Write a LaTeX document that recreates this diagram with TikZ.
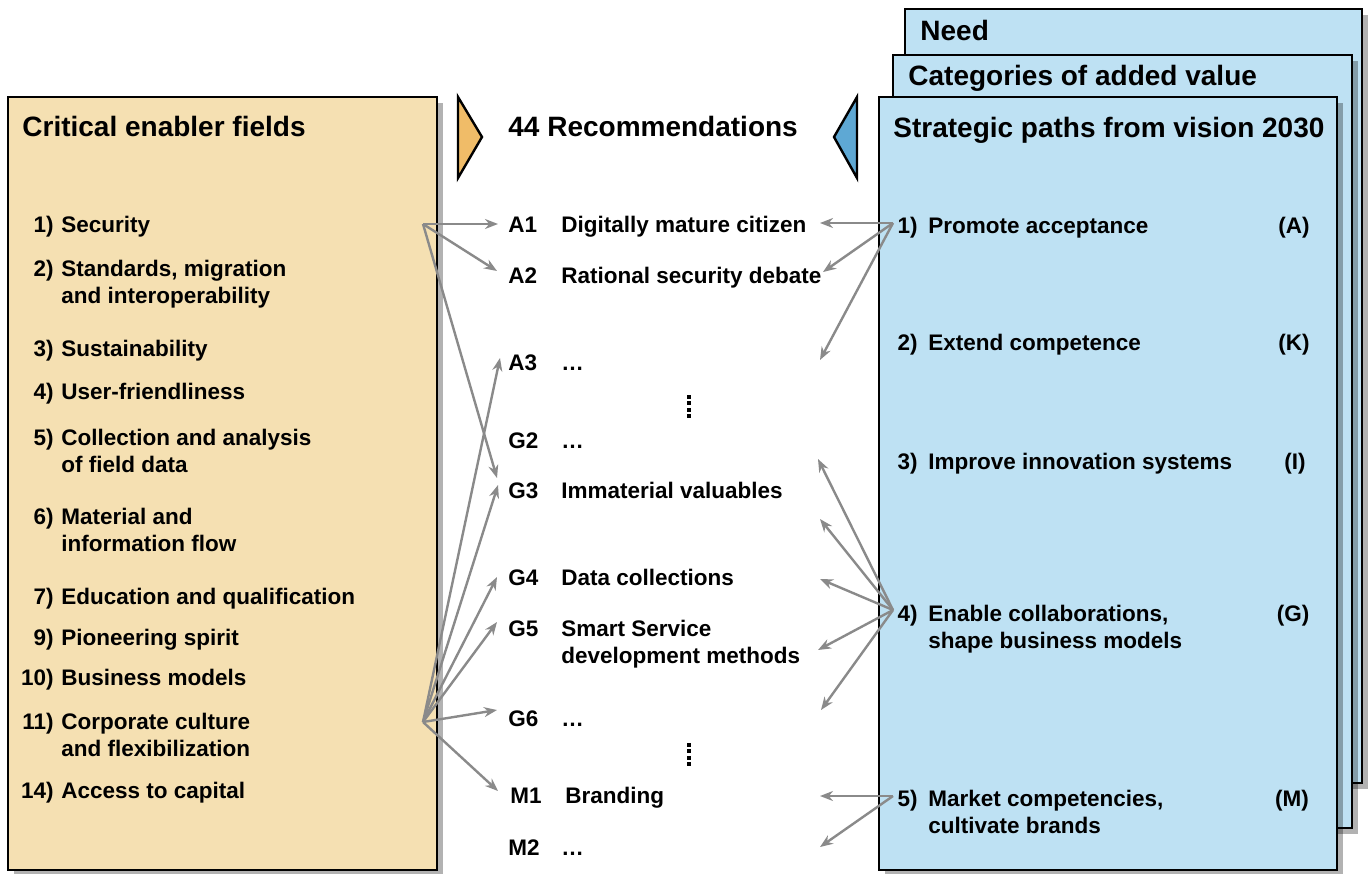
\documentclass[tikz,border=0pt]{standalone}
\usepackage{fontspec}
\setmainfont{Liberation Sans}
\usetikzlibrary{arrows.meta}
\definecolor{boxorange}{HTML}{F5E0B2}
\definecolor{boxblue}{HTML}{BEE1F3}
\definecolor{triorange}{HTML}{F0BC68}
\definecolor{triblue}{HTML}{5EA8D4}
\definecolor{arrowgray}{HTML}{8A8A8A}
\begin{document}
\begin{tikzpicture}[x=0.5pt,y=-0.5pt,
  hdr/.style={font=\fontsize{14}{16.8}\selectfont\bfseries, inner sep=0pt, anchor=base west},
  itm/.style={font=\fontsize{11.25}{13.5}\selectfont\bfseries, inner sep=0pt, anchor=base west},
  itmtwo/.style={itm, anchor=north west, align=left},
  num/.style={itm, anchor=base east},
  tag/.style={itm, anchor=base},
  boxframe/.style={draw=black, line width=1.2pt},
  shadowbox/.style={fill=black, opacity=0.3},
  conn/.style={draw=arrowgray, line width=1.2pt, -{Stealth[length=6.5pt,width=5pt]}},
  vdots/.style={line width=2pt, dash pattern=on 2pt off 1.2pt}
]
\useasboundingbox (0,0) rectangle (1370,873);

% ---------- left box ----------
\fill[shadowbox] (14,103) rectangle (443,876);
\draw[boxframe, fill=boxorange] (8,97) rectangle (437,870);
\node[hdr] (lhdr) at (22,136) {Critical enabler fields};

\node[num] (n1) at (54,232) {1)};
\node[itm] (l1) at (61,232) {Security};
\node[num] (n2) at (54,276) {2)};
\node[itmtwo] (l2) at (61,259.5) {Standards, migration\\and interoperability};
\node[num] (n3) at (54,356) {3)};
\node[itm] (l3) at (61,356) {Sustainability};
\node[num] (n4) at (54,399) {4)};
\node[itm] (l4) at (61,399) {User-friendliness};
\node[num] (n5) at (54,445) {5)};
\node[itmtwo] (l5) at (61,428.5) {Collection and analysis\\of field data};
\node[num] (n6) at (54,524) {6)};
\node[itmtwo] (l6) at (61,507.5) {Material and\\information flow};
\node[num] (n7) at (54,604) {7)};
\node[itm] (l7) at (61,604) {Education and qualification};
\node[num] (n9) at (54,645) {9)};
\node[itm] (l9) at (61,645) {Pioneering spirit};
\node[num] (n10) at (54,685) {10)};
\node[itm] (l10) at (61,685) {Business models};
\node[num] (n11) at (54,729) {11)};
\node[itmtwo] (l11) at (61,712.5) {Corporate culture\\and flexibilization};
\node[num] (n14) at (54,798) {14)};
\node[itm] (l14) at (61,798) {Access to capital};

% ---------- right stacked boxes ----------
\fill[shadowbox] (911,15) rectangle (1368,789);
\draw[boxframe, fill=boxblue] (905,9) rectangle (1362,783);
\node[hdr] (needhdr) at (920,40) {Need};
\fill[shadowbox] (899,61) rectangle (1358,834);
\draw[boxframe, fill=boxblue] (893,55) rectangle (1352,828);
\node[hdr] (cathdr) at (908,85) {Categories of added value};
\fill[shadowbox] (885,103) rectangle (1343,876);
\draw[boxframe, fill=boxblue] (879,97) rectangle (1337,870);
\node[hdr] (rhdr) at (893,137) {Strategic paths from vision 2030};

\node[num] (r1n) at (918,233) {1)};
\node[itm] (r1) at (928,233) {Promote acceptance};
\node[tag] (r1t) at (1294,233) {(A)};
\node[num] (r2n) at (918,350) {2)};
\node[itm] (r2) at (928,350) {Extend competence};
\node[tag] (r2t) at (1294,350) {(K)};
\node[num] (r3n) at (918,469) {3)};
\node[itm] (r3) at (928,469) {Improve innovation systems};
\node[tag] (r3t) at (1295,469) {(I)};
\node[num] (r4n) at (918,621) {4)};
\node[itmtwo] (r4) at (928,604.5) {Enable collaborations,\\shape business models};
\node[tag] (r4t) at (1293,621) {(G)};
\node[num] (r5n) at (918,806) {5)};
\node[itmtwo] (r5) at (928,789.5) {Market competencies,\\cultivate brands};
\node[tag] (r5t) at (1292,806) {(M)};

% ---------- triangles and middle header ----------
\draw[line width=1.2pt, fill=triorange, line join=miter] (458,97) -- (482,137) -- (458,178) -- cycle;
\draw[line width=1.2pt, fill=triblue, line join=miter] (857,97) -- (834,137) -- (857,178) -- cycle;
\node[hdr] (mhdr) at (508,136) {44 Recommendations};

% ---------- middle column ----------
\node[itm] (cA1) at (508,232) {A1};
\node[itm] (tA1) at (561,232) {Digitally mature citizen};
\node[itm] (cA2) at (508,283) {A2};
\node[itm] (tA2) at (561,283) {Rational security debate};
\node[itm] (cA3) at (508,370) {A3};
\node[itm] (tA3) at (561,370) {…};
\node[itm] (cG2) at (508,448) {G2};
\node[itm] (tG2) at (561,448) {…};
\node[itm] (cG3) at (508,498) {G3};
\node[itm] (tG3) at (561,498) {Immaterial valuables};
\node[itm] (cG4) at (508,585) {G4};
\node[itm] (tG4) at (561,585) {Data collections};
\node[itm] (cG5) at (508,636) {G5};
\node[itmtwo] (tG5) at (561,619.5) {Smart Service\\development methods};
\node[itm] (cG6) at (508,726) {G6};
\node[itm] (tG6) at (561,726) {…};
\node[itm] (cM1) at (510,803) {M1};
\node[itm] (tM1) at (565,803) {Branding};
\node[itm] (cM2) at (508,855) {M2};
\node[itm] (tM2) at (561,855) {…};

\coordinate (d1a) at (689,395);
\coordinate (d1b) at (689,418);
\coordinate (d2a) at (689,743);
\coordinate (d2b) at (689,766);
\draw[vdots] (d1a) -- (d1b);
\draw[vdots] (d2a) -- (d2b);

% ---------- connectors ----------
\coordinate (fanL1) at (423,224);
\coordinate (fanL2) at (423,722);
\coordinate (fanR1) at (893,223);
\coordinate (fanR4) at (893,610);
\coordinate (fanR5) at (893,796);

\coordinate (inA1) at (498,224);
\coordinate (inA2) at (497,271);
\coordinate (inG3a) at (497,478);
\coordinate (inA3) at (500,358);
\coordinate (inG3b) at (498,485);
\coordinate (inG4) at (497,577);
\coordinate (inG5) at (497,622);
\coordinate (inG6) at (497,710);
\coordinate (inM1) at (498,791);

\draw[conn] (fanL1) -- (inA1);
\draw[conn] (fanL1) -- (inA2);
\draw[conn] (fanL1) -- (inG3a);
\draw[conn] (fanL2) -- (inA3);
\draw[conn] (fanL2) -- (inG3b);
\draw[conn] (fanL2) -- (inG4);
\draw[conn] (fanL2) -- (inG5);
\draw[conn] (fanL2) -- (inG6);
\draw[conn] (fanL2) -- (inM1);

\coordinate (outA1) at (820,223);
\coordinate (outA2) at (823,272);
\coordinate (outA3) at (820,360);
\coordinate (outG3) at (818,459);
\coordinate (outG3b) at (820,519);
\coordinate (outG4) at (820,579);
\coordinate (outG5) at (818,650);
\coordinate (outG6) at (821,710);
\coordinate (outM1) at (820,796);
\coordinate (outM2) at (820,847);

\draw[conn] (fanR1) -- (outA1);
\draw[conn] (fanR1) -- (outA2);
\draw[conn] (fanR1) -- (outA3);
\draw[conn] (fanR4) -- (outG3);
\draw[conn] (fanR4) -- (outG3b);
\draw[conn] (fanR4) -- (outG4);
\draw[conn] (fanR4) -- (outG5);
\draw[conn] (fanR4) -- (outG6);
\draw[conn] (fanR5) -- (outM1);
\draw[conn] (fanR5) -- (outM2);
\end{tikzpicture}
\end{document}
